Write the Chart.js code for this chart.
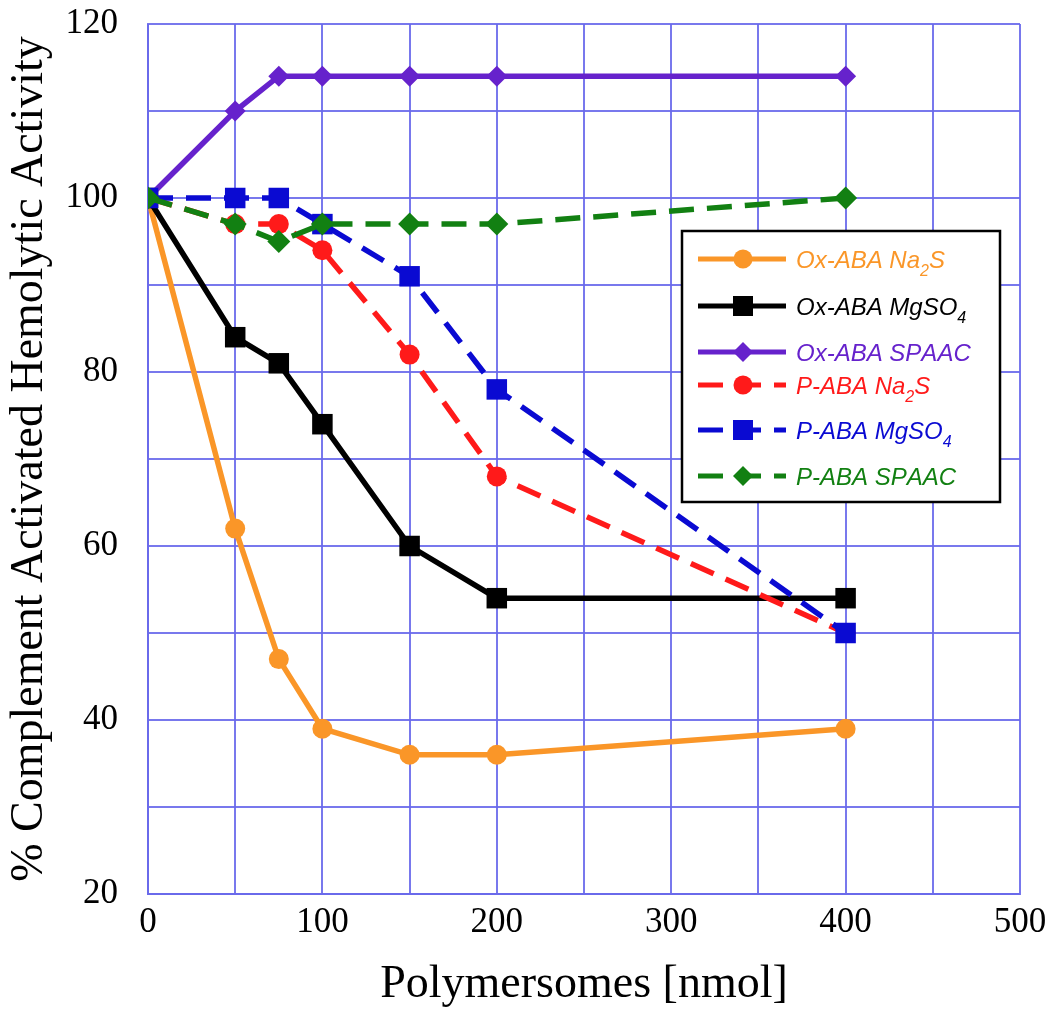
<!DOCTYPE html>
<html>
<head>
<meta charset="utf-8">
<script src="https://cdn.jsdelivr.net/npm/chart.js@4.4.0/dist/chart.umd.min.js"></script>
<style>
  html, body { margin: 0; padding: 0; background: #fff; }
  #wrap { width: 1050px; height: 1013px; }
</style>
</head>
<body>
<div id="wrap"><canvas id="hemoChart"></canvas></div>
<script>
// polymersome dose (nmol) and % hemolytic activity per formulation
var doses = [0, 50, 75, 100, 150, 200, 400];
var oxNa2S = [100, 62, 47, 39, 36, 36, 39];
var oxMgSO4 = [100, 84, 81, 74, 60, 54, 54];
var oxSPAAC = [100, 110, 114, 114, 114, 114, 114];
var pNa2S = [100, 97, 97, 94, 82, 68, 50];
var pMgSO4 = [100, 100, 100, 97, 91, 78, 50];
var pSPAAC = [100, 97, 95, 97, 97, 97, 100];

var seriesLabels = ['Ox-ABA Na₂S', 'Ox-ABA MgSO₄', 'Ox-ABA SPAAC', 'P-ABA Na₂S', 'P-ABA MgSO₄', 'P-ABA SPAAC'];
var xTickLabels = [0, 100, 200, 300, 400, 500];
var yTickLabels = [20, 40, 60, 80, 100, 120];

var gridColor = 'rgba(105, 105, 235, 0.9)';

function pts(values) {
    return doses.map(function (d, i) { return { x: d, y: values[i] }; });
}

function series(label, values, color, style, radius, dashed, order) {
    return {
        label: label,
        data: pts(values),
        borderColor: color,
        backgroundColor: color,
        pointBackgroundColor: color,
        pointBorderColor: color,
        pointBorderWidth: 0,
        pointStyle: style,
        pointRadius: radius,
        pointHoverRadius: radius,
        borderWidth: 5.5,
        borderDash: dashed ? [25, 13] : [],
        tension: 0,
        order: order
    };
}

// legend drawn inside the plot, in a black box, like the original
var boxLegend = {
    id: 'boxLegend',
    afterDraw: function (chart) {
        var ctx = chart.ctx;
        var left = 682, top = 231, right = 1000, bottom = 502;
        var rows = [28, 75, 121, 154, 199, 245];
        ctx.save();
        ctx.fillStyle = '#fff';
        ctx.fillRect(left, top, right - left, bottom - top);
        ctx.strokeStyle = '#000';
        ctx.lineWidth = 2.5;
        ctx.setLineDash([]);
        ctx.strokeRect(left, top, right - left, bottom - top);

        chart.data.datasets.forEach(function (ds, i) {
            var y = top + rows[i];
            var color = ds.borderColor;
            ctx.strokeStyle = color;
            ctx.fillStyle = color;
            ctx.lineWidth = 5;
            ctx.setLineDash(ds.borderDash);
            ctx.beginPath();
            ctx.moveTo(698, y);
            ctx.lineTo(786, y);
            ctx.stroke();
            ctx.setLineDash([]);

            var mx = 743;
            ctx.beginPath();
            if (ds.pointStyle === 'circle') {
                ctx.arc(mx, y, 9.5, 0, Math.PI * 2);
            } else if (ds.pointStyle === 'rect') {
                ctx.rect(mx - 10, y - 10, 20, 20);
            } else {
                ctx.moveTo(mx, y - 10);
                ctx.lineTo(mx + 10, y);
                ctx.lineTo(mx, y + 10);
                ctx.lineTo(mx - 10, y);
                ctx.closePath();
            }
            ctx.fill();

            // text with real subscripts
            var tx = 796, base = y + 8.5;
            ctx.textBaseline = 'alphabetic';
            ctx.textAlign = 'left';
            Array.from(ds.label).forEach(function (ch) {
                var code = ch.charCodeAt(0);
                if (code >= 0x2080 && code <= 0x2089) {
                    var digit = String(code - 0x2080);
                    ctx.font = 'italic 16px "Liberation Sans", Arial, sans-serif';
                    ctx.fillText(digit, tx, base + 8);
                    tx += ctx.measureText(digit).width;
                } else {
                    ctx.font = 'italic 24px "Liberation Sans", Arial, sans-serif';
                    ctx.fillText(ch, tx, base);
                    tx += ctx.measureText(ch).width;
                }
            });
        });
        ctx.restore();
    }
};

var hemoConfig = {
    type: 'line',
    data: {
        datasets: [
            series(seriesLabels[0], oxNa2S, '#FA9628', 'circle', 10, false, 6),
            series(seriesLabels[1], oxMgSO4, '#000000', 'rect', 14.5, false, 5),
            series(seriesLabels[2], oxSPAAC, '#6622CC', 'rectRot', 10.5, false, 4),
            series(seriesLabels[3], pNa2S, '#FF1A1A', 'circle', 10, true, 3),
            series(seriesLabels[4], pMgSO4, '#0A0AD2', 'rect', 14.5, true, 2),
            series(seriesLabels[5], pSPAAC, '#128012', 'rectRot', 11.5, true, 1)
        ]
    },
    options: {
        responsive: true,
        maintainAspectRatio: false,
        animation: false,
        layout: {
            padding: { left: 2, right: 30, top: 24, bottom: 0 }
        },
        scales: {
            x: {
                type: 'linear',
                min: 0,
                max: 500,
                afterFit: function (scale) {
                    scale.height = 119;
                    scale.paddingLeft = 0;
                    scale.paddingRight = 0;
                },
                grid: { color: gridColor, lineWidth: 2, drawTicks: false },
                border: { display: true, color: gridColor, width: 2 },
                ticks: {
                    stepSize: 50,
                    autoSkip: false,
                    maxRotation: 0,
                    padding: 8,
                    color: '#000',
                    font: { family: '"Liberation Serif", "Times New Roman", serif', size: 35 },
                    callback: function (v) { return xTickLabels.indexOf(v) >= 0 ? String(v) : ''; }
                },
                title: {
                    display: true,
                    text: 'Polymersomes [nmol]',
                    color: '#000',
                    padding: 0,
                    font: { family: '"Liberation Serif", "Times New Roman", serif', size: 46 }
                }
            },
            y: {
                min: 20,
                max: 120,
                afterFit: function (scale) {
                    scale.width = 146;
                    scale.paddingTop = 0;
                    scale.paddingBottom = 0;
                },
                grid: { color: gridColor, lineWidth: 2, drawTicks: false },
                border: { display: true, color: gridColor, width: 2 },
                ticks: {
                    stepSize: 10,
                    autoSkip: false,
                    padding: 30,
                    color: '#000',
                    font: { family: '"Liberation Serif", "Times New Roman", serif', size: 35 },
                    callback: function (v) { return yTickLabels.indexOf(v) >= 0 ? String(v) : ''; }
                },
                title: {
                    display: true,
                    text: '% Complement Activated Hemolytic Activity',
                    color: '#000',
                    padding: 0,
                    font: { family: '"Liberation Serif", "Times New Roman", serif', size: 46 }
                }
            }
        },
        plugins: {
            legend: { display: false },
            tooltip: { enabled: false }
        }
    },
    plugins: [boxLegend]
};

var ctx = document.getElementById('hemoChart').getContext('2d');
var hemoChart = new Chart(ctx, hemoConfig);
</script>
</body>
</html>
